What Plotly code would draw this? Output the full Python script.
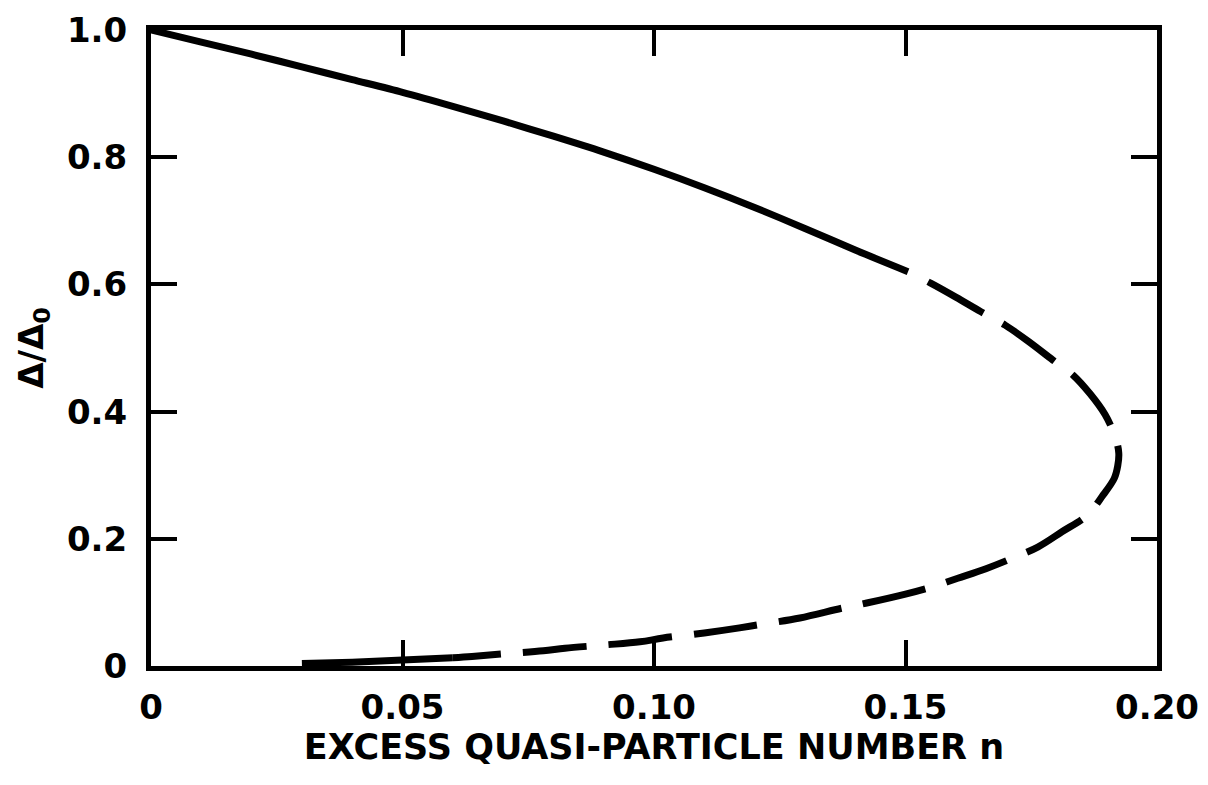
import plotly.graph_objects as go

# Stable (upper) branch of the gap curve, drawn solid
n_stable = [0.0, 0.01, 0.02, 0.03, 0.04, 0.05, 0.06, 0.07, 0.08, 0.09,
            0.10, 0.11, 0.12, 0.13, 0.14, 0.1505]
gap_stable = [1.0, 0.981, 0.962, 0.942, 0.922, 0.902, 0.880, 0.857, 0.833, 0.808,
              0.781, 0.752, 0.721, 0.688, 0.654, 0.620]

# Continuation through the turning point and along the lower branch, drawn dashed
n_unstable = [0.1505, 0.155, 0.160, 0.165, 0.1698, 0.1745, 0.1793, 0.1833, 0.1867,
              0.1897, 0.1917, 0.1924, 0.1922, 0.1915, 0.1893, 0.1861, 0.1811, 0.1763,
              0.1714, 0.166, 0.1604, 0.1559, 0.150, 0.1423, 0.1374, 0.129, 0.1217,
              0.117, 0.110, 0.1018, 0.0972, 0.090, 0.0823, 0.078, 0.070, 0.0638, 0.060]
gap_unstable = [0.620, 0.602, 0.580, 0.557, 0.536, 0.510, 0.481, 0.4575, 0.428,
                0.395, 0.360, 0.335, 0.315, 0.295, 0.269, 0.237, 0.211, 0.187,
                0.170, 0.153, 0.138, 0.126, 0.113, 0.099, 0.091, 0.0755, 0.066,
                0.060, 0.052, 0.044, 0.038, 0.033, 0.028, 0.024, 0.019, 0.015, 0.013]

# Tail of the lower branch running into the axis
n_tail = [0.06, 0.05, 0.04, 0.03]
gap_tail = [0.013, 0.009, 0.006, 0.004]

x_ticks = [0, 0.05, 0.10, 0.15, 0.20]
x_tick_text = ["0", "0.05", "0.10", "0.15", "0.20"]
y_ticks = [0, 0.2, 0.4, 0.6, 0.8, 1.0]
y_tick_text = ["0", "0.2", "0.4", "0.6", "0.8", "1.0"]

FONT = "DejaVu Sans"
LW = 7

fig = go.Figure()
fig.add_trace(go.Scatter(x=n_stable, y=gap_stable, mode="lines",
                         line=dict(color="black", width=LW, shape="spline", smoothing=0.8),
                         hoverinfo="skip"))
fig.add_trace(go.Scatter(x=n_unstable, y=gap_unstable, mode="lines",
                         line=dict(color="black", width=LW, dash="0px,22px,64px,0px",
                                   shape="spline", smoothing=1.0),
                         hoverinfo="skip"))
fig.add_trace(go.Scatter(x=n_tail, y=gap_tail, mode="lines",
                         line=dict(color="black", width=LW), hoverinfo="skip"))

axis_common = dict(
    showline=True, linecolor="black", linewidth=5, mirror="ticks",
    ticks="inside", ticklen=26, tickwidth=4, tickcolor="black",
    showgrid=False, zeroline=False, automargin=False,
    tickfont=dict(family=FONT, size=34, color="black", weight="bold"),
)

fig.update_xaxes(range=[0, 0.2], tickvals=x_ticks, ticktext=x_tick_text,
                 ticklabelstandoff=7,
                 title=dict(text="EXCESS QUASI-PARTICLE NUMBER n",
                            font=dict(family=FONT, size=35, color="black", weight="bold"),
                            standoff=0),
                 **axis_common)
fig.update_yaxes(range=[0, 1.0], tickvals=y_ticks, ticktext=y_tick_text,
                 ticklabelstandoff=12,
                 title=dict(text="Δ/Δ<sub>0</sub>",
                            font=dict(family=FONT, size=34, color="black", weight="bold"),
                            standoff=15),
                 **axis_common)

fig.update_layout(
    width=1208, height=785,
    margin=dict(l=151, r=51, t=30, b=119),
    paper_bgcolor="white", plot_bgcolor="white",
    showlegend=False,
)

fig.write_html("out.html")
